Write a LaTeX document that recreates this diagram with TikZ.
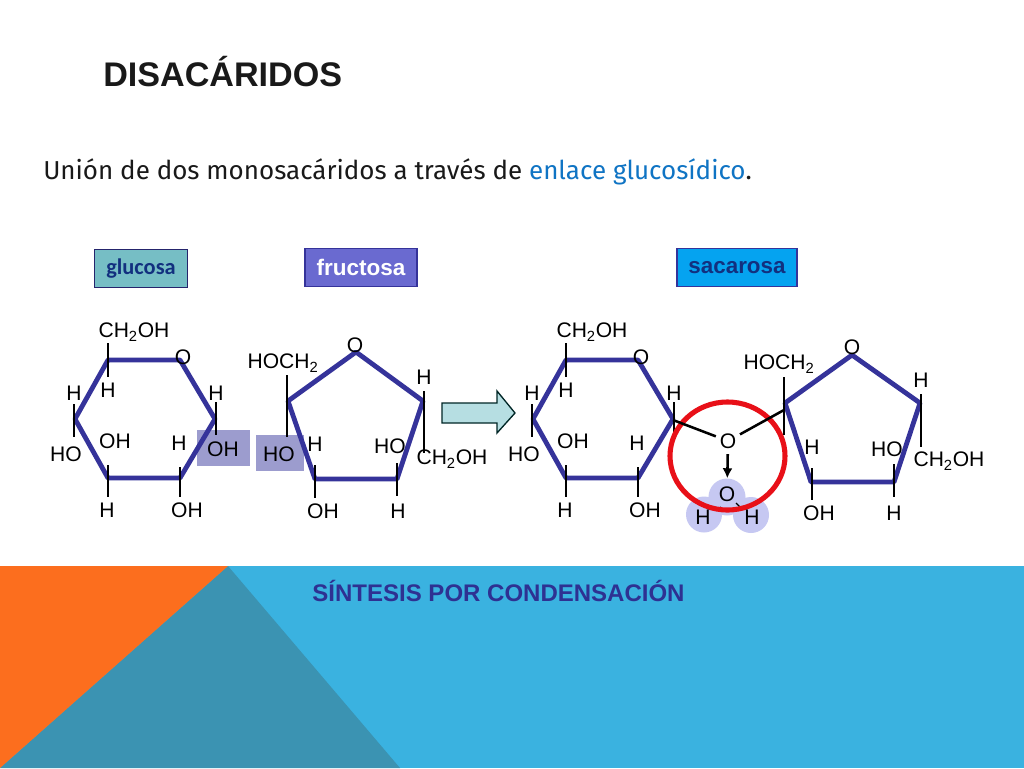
\documentclass[tikz,border=0pt]{standalone}
\usepackage{fontspec}
\setmainfont{Liberation Sans}
\newfontfamily\subfont{Fira Sans}
\newfontfamily\glufont{Carlito}
\usetikzlibrary{arrows.meta}
\definecolor{ringblue}{HTML}{35339A}
\definecolor{hl}{HTML}{9C9CCE}
\definecolor{wat}{HTML}{C6C8F2}
\definecolor{bandblue}{HTML}{3AB2E0}
\definecolor{bandteal}{HTML}{3B93B2}
\definecolor{bandorange}{HTML}{FC6E1E}
\definecolor{linkblue}{HTML}{0F74C4}
\definecolor{synth}{HTML}{2E3192}
\definecolor{glufill}{HTML}{76BEC5}
\definecolor{frufill}{HTML}{6A6AD0}
\definecolor{sacfill}{HTML}{05A3F0}
\definecolor{navy}{HTML}{12307F}
\definecolor{redring}{HTML}{E81018}
\definecolor{arrowfill}{HTML}{B6DEE2}
\tikzset{
 x=0.75pt,y=-0.75pt,
 ring/.style={draw=ringblue,line width=3.6pt,line join=round},
 bond/.style={draw=black,line width=1.9pt},
 lab/.style={inner sep=0pt,font=\fontsize{15.8pt}{16pt}\selectfont,text=black},
 tagbox/.style={line width=0.9pt,inner sep=0pt,minimum height=28.5pt},
}
\newcommand{\ctwo}{CH\textsubscript{2}OH}
\newcommand{\htwo}{HOCH\textsubscript{2}}
\begin{document}
\begin{tikzpicture}
\useasboundingbox (0,0) rectangle (1024,768);
\fill[white] (0,0) rectangle (1024,768);
% band
\fill[bandblue] (0,566) rectangle (1024,768);
\fill[bandteal] (0,768) -- (228,566) -- (400,768) -- cycle;
\fill[bandorange] (0,566) -- (228,566) -- (0,768) -- cycle;
% title
\node[anchor=base west,inner sep=0pt,font=\bfseries\fontsize{25.6pt}{30pt}\selectfont,text=black!90] (title) at (103,86) {DISACÁRIDOS};
\node[anchor=west,inner sep=0pt,font=\subfont\fontsize{19.47pt}{22pt}\selectfont,text=black!90] (sub) at (43,172) {Unión de dos monosacáridos a través de \textcolor{linkblue}{enlace glucosídico}.};
% tags
\node[tagbox,draw=black!30!ringblue,fill=glufill,minimum width=70pt,text=navy,font=\glufont\bfseries\fontsize{16.8pt}{17pt}\selectfont] (glucosa) at (141,268.5) {glucosa};
\node[tagbox,draw=ringblue,fill=frufill,minimum width=84pt,text=white,font=\bfseries\fontsize{16.9pt}{17pt}\selectfont] (fructosa) at (361,267.5) {fructosa};
\node[tagbox,draw=ringblue,fill=sacfill,minimum width=90pt,text=navy,font=\bfseries\fontsize{16.8pt}{17pt}\selectfont] (sacarosa) at (737,267.5) {sacarosa};
% highlight boxes
\fill[hl] (197,430) rectangle (250,466);
\fill[hl] (256,435) rectangle (304,471);
% glucose rings
\foreach \dx/\name in {0/a,458/b}{
 \begin{scope}[xshift=\dx*0.75pt]
 \draw[ring] (108,360) -- (180,360) -- (215,419) -- (180,478) -- (108,478) -- (75,419) -- cycle;
 \draw[bond] (108,343) -- (108,377);
 \draw[bond] (74,404) -- (74,437);
 \draw[bond] (108,465) -- (108,497);
 \draw[bond] (180,467) -- (180,497);
 \draw[bond] (216,402) -- (216,435);
 \node[lab] (\name ch) at (134,332) {\ctwo};
 \node[lab] (\name o) at (183,357) {O};
 \node[lab] (\name h1) at (108,390) {H};
 \node[lab] (\name h2) at (74,393) {H};
 \node[lab] (\name h3) at (216,393) {H};
 \node[lab] (\name ho) at (66,454) {HO};
 \node[lab] (\name oh) at (115,441) {OH};
 \node[lab] (\name h4) at (179,443) {H};
 \node[lab] (\name h5) at (107,510) {H};
 \node[lab] (\name oh2) at (187,510) {OH};
 \end{scope}
}
\node[lab] (oh3) at (223,449) {OH};
% fructose left
\draw[ring] (356,352) -- (423,401) -- (397,479) -- (315,479) -- (288,401) -- cycle;
\draw[bond] (287,375) -- (287,437);
\draw[bond] (424,391) -- (424,453);
\draw[bond] (315,465) -- (315,498);
\draw[bond] (397,463) -- (397,496);
\node[lab] (fo) at (355,345) {O};
\node[lab] (fhoch) at (283,363) {\htwo};
\node[lab] (fh1) at (424,377) {H};
\node[lab] (fh2) at (315,444) {H};
\node[lab] (fho) at (390,446) {HO};
\node[lab] (fch) at (452,459) {\ctwo};
\node[lab] (foh) at (323,511) {OH};
\node[lab] (fh3) at (398,511) {H};
\node[lab] (fho2) at (279,454) {HO};
% arrow
\draw[draw=black!70!teal,fill=arrowfill,line width=1pt,line join=miter]
 (442,403) -- (497,403) -- (497,391) -- (515,413) -- (497,433) -- (497,423) -- (442,423) -- cycle;
% water
\fill[wat] (727,497) circle[radius=18.5] (704,514.5) circle[radius=18] (751,515) circle[radius=18];
\draw[line width=0.9pt] (718,510) -- (721,507) (736,503) -- (740,507);
% red circle
\draw[draw=redring,line width=3.8pt] (727.5,456) ellipse[x radius=57.5,y radius=54];
% right fructose
\draw[ring] (852,355) -- (920,403) -- (894,482) -- (811,482) -- (785,403) -- cycle;
\draw[bond] (784,377) -- (784,435);
\draw[bond] (921,394) -- (921,447);
\draw[bond] (812,468) -- (812,500);
\draw[bond] (894,464) -- (894,497);
\node[lab] (so) at (852,347) {O};
\node[lab] (shoch) at (779,364) {\htwo};
\node[lab] (sh1) at (921,380) {H};
\node[lab] (sh2) at (812,447) {H};
\node[lab] (sho) at (887,449) {HO};
\node[lab] (sch) at (949,461) {\ctwo};
\node[lab] (soh) at (819,513) {OH};
\node[lab] (sh3) at (894,513) {H};
% bridge
\node[lab] (bo) at (728,441) {O};
\coordinate (bl) at (673,420);
\coordinate (br) at (784,410);
\draw[bond,shorten >=3pt] (bl) -- (bo);
\draw[bond,shorten <=3pt] (bo) -- (br);
\node[lab] (wo) at (727,494) {O};
\node[lab] (wh1) at (703,517) {H};
\node[lab] (wh2) at (752,517) {H};
\draw[-{Latex[length=7.5pt,width=7.5pt]},bond,shorten <=4pt,shorten >=6pt] (bo) -- (wo);
% footer text
\node[inner sep=0pt,font=\bfseries\fontsize{18pt}{18pt}\selectfont,text=synth] (synth) at (498.5,590.5) {SÍNTESIS POR CONDENSACIÓN};
\end{tikzpicture}
\end{document}
